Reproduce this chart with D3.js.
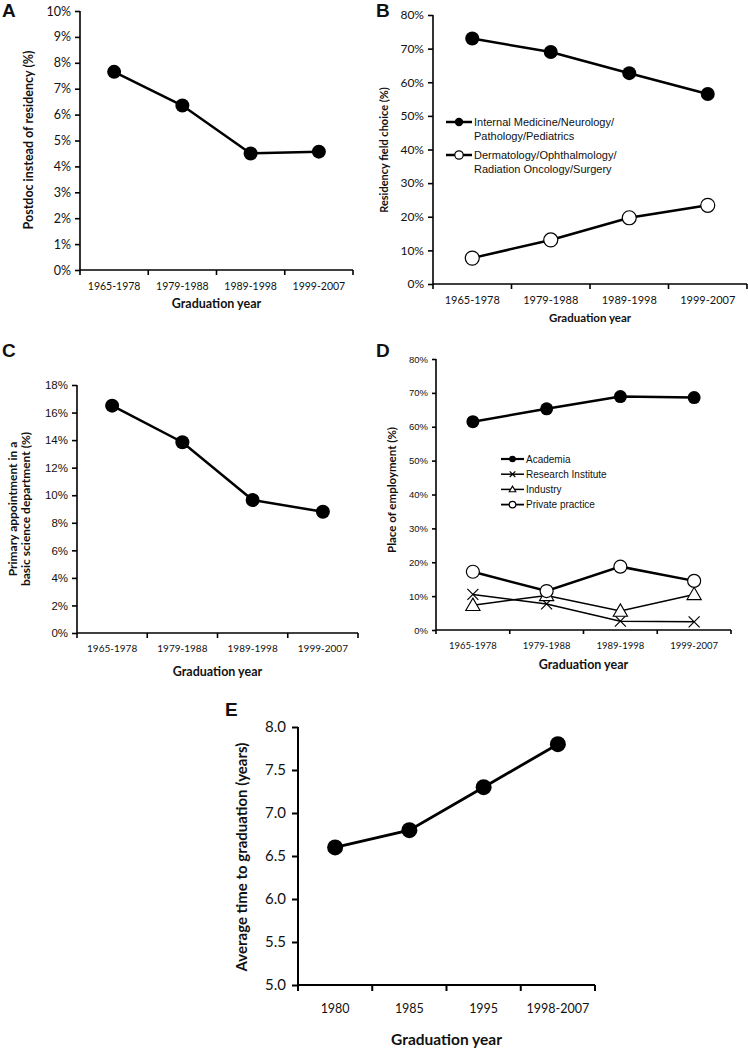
<!DOCTYPE html>
<html><head><meta charset="utf-8">
<script src="https://cdn.jsdelivr.net/npm/d3@7"></script>
<style>body{margin:0;background:#fff}svg{display:block}</style>
</head><body>
<script>
const periods = ["1965-1978","1979-1988","1989-1998","1999-2007"];
const postdocPct = [7.65, 6.35, 4.5, 4.57];
const residencyIM = [73.0, 69.0, 62.7, 56.5];
const residencyDerm = [7.7, 13.1, 19.7, 23.4];
const basicSciencePct = [16.5, 13.85, 9.65, 8.8];
const academia = [61.5, 65.3, 68.9, 68.6];
const researchInst = [10.5, 7.7, 2.6, 2.4];
const industry = [7.3, 10.2, 5.6, 10.5];
const privatePractice = [17.2, 11.5, 18.7, 14.5];
const eYears = ["1980","1985","1995","1998-2007"];
const timeToGrad = [6.6, 6.8, 7.3, 7.8];

const CAL = "Lato, 'Open Sans', sans-serif";
const ARI = "'Liberation Sans', Arial, sans-serif";

const svg = d3.select("body").append("svg").attr("width",748).attr("height",1049);

function panel(o){
  const g = svg.append("g");
  const x = d3.scaleBand().domain(o.cats).range([o.x0,o.x1]).padding(0);
  const y = d3.scaleLinear().domain(o.ydom).range([o.yb,o.yt]);
  // y axis
  const ya = d3.axisLeft(y).tickValues(o.yticks).tickFormat(o.yfmt).tickSize(o.tick).tickPadding(o.ypad||4);
  const yg = g.append("g").attr("transform",`translate(${o.x0},0)`).call(ya);
  yg.selectAll("text").attr("font-family",o.yfont).attr("font-size",o.yfs).attr("fill","#111");
  yg.selectAll("line,path").attr("stroke","#000").attr("stroke-width",o.axw||1.6);
  yg.select(".domain").attr("d",`M0,${o.yb}V${o.yt}`);
  // x axis
  const xg = g.append("g").attr("transform",`translate(0,${o.yb})`);
  xg.append("line").attr("x1",o.x0).attr("x2",o.x1).attr("stroke","#000").attr("stroke-width",o.axw||1.6);
  const edges = o.cats.map(c=>x(c)).concat([x.range()[1]]);
  xg.selectAll("line.t").data(edges).join("line").attr("class","t")
    .attr("x1",d=>d).attr("x2",d=>d).attr("y1",0).attr("y2",o.tick).attr("stroke","#000").attr("stroke-width",o.axw||1.6);
  xg.selectAll("text.c").data(o.cats).join("text").attr("class","c")
    .attr("x",d=>x(d)+x.bandwidth()/2).attr("y",o.xlabDy).attr("text-anchor","middle")
    .attr("font-family",o.xfont||CAL).attr("font-size",o.xfs).attr("fill","#111").text(d=>d);
  // titles
  g.append("text").attr("x",(o.x0+o.x1)/2).attr("y",o.xtY).attr("text-anchor","middle")
    .attr("font-family",CAL).attr("font-weight","bold").attr("font-size",o.xtfs).attr("fill","#111").text(o.xtitle);
  const yt = g.append("text").attr("transform",`translate(${o.ytX},${o.ytY}) rotate(-90)`).attr("text-anchor","middle")
    .attr("font-family",CAL).attr("font-weight","bold").attr("font-size",o.ytfs).attr("fill","#111");
  o.ytitle.forEach((t,i)=>yt.append("tspan").attr("x",0).attr("dy",i?o.ytfs*1.1:0).text(t));
  g.append("text").attr("x",o.lx).attr("y",o.ly).attr("font-family",ARI).attr("font-weight","bold")
    .attr("font-size",o.lfs||19).attr("fill","#111").text(o.letter);
  // series
  o.series.forEach(s=>{
    const pts = s.vals.map((v,i)=>[x(o.cats[i])+x.bandwidth()/2, y(v)]);
    g.append("path").attr("d",d3.line()(pts)).attr("fill","none").attr("stroke","#000").attr("stroke-width",s.lw);
    pts.forEach(p=>drawMarker(g,s.marker,p[0],p[1],s.r));
  });
  return {x,y,g};
}

function drawMarker(g,m,cx,cy,r){
  if(m==="fill") g.append("circle").attr("cx",cx).attr("cy",cy).attr("r",r).attr("fill","#000");
  else if(m==="open") g.append("circle").attr("cx",cx).attr("cy",cy).attr("r",r).attr("fill","#fff").attr("stroke","#000").attr("stroke-width",1.2);
  else if(m==="x"){ g.append("path").attr("d",`M${cx-r},${cy-r}L${cx+r},${cy+r}M${cx-r},${cy+r}L${cx+r},${cy-r}`).attr("stroke","#000").attr("stroke-width",1.2);}
  else if(m==="tri"){ g.append("path").attr("d",`M${cx},${cy-r*1.1}L${cx+r*1.1},${cy+r*0.8}L${cx-r*1.1},${cy+r*0.8}Z`).attr("fill","#fff").attr("stroke","#000").attr("stroke-width",1.1);}
}

const pctFmt = d=>d+"%";

// Panel A
panel({cats:periods,x0:80,x1:353,yb:270,yt:11,ydom:[0,10],yticks:d3.range(0,11,1),yfmt:pctFmt,
  yfont:CAL,yfs:12.5,xfs:10.5,xlabDy:20,tick:5,xtitle:"Graduation year",xtY:308,xtfs:12.5,
  ytitle:["Postdoc instead of residency (%)"],ytX:33,ytY:140,ytfs:12.5,letter:"A",lx:2,ly:17,
  series:[{vals:postdocPct,marker:"fill",r:7,lw:2.5}]});

// Panel B
const B = panel({cats:periods,x0:433,x1:747,yb:284,yt:15,ydom:[0,80],yticks:d3.range(0,81,10),yfmt:pctFmt,
  yfont:CAL,yfs:12,xfs:11,xlabDy:20,tick:5,xtitle:"Graduation year",xtY:322,xtfs:11.5,
  ytitle:["Residency field choice (%)"],ytX:388,ytY:150,ytfs:11,letter:"B",lx:376,ly:17,
  series:[{vals:residencyIM,marker:"fill",r:7,lw:2.5},{vals:residencyDerm,marker:"open",r:7,lw:2.5}]});
// Legend B
const legB = [{m:"fill",lines:["Internal Medicine/Neurology/","Pathology/Pediatrics"]},
              {m:"open",lines:["Dermatology/Ophthalmology/","Radiation Oncology/Surgery"]}];
legB.forEach((d,i)=>{
  const ly = 122 + i*33;
  B.g.append("line").attr("x1",446).attr("x2",472).attr("y1",ly).attr("y2",ly).attr("stroke","#000").attr("stroke-width",2.5);
  drawMarker(B.g,d.m,459,ly,4.2);
  const t = B.g.append("text").attr("x",474).attr("y",ly+4).attr("font-family",ARI).attr("font-size",11).attr("fill","#111");
  d.lines.forEach((l,j)=>t.append("tspan").attr("x",j?474:474).attr("dy",j?13.5:0).text(l));
});

// Panel C
panel({cats:periods,x0:77,x1:358,yb:633,yt:385,ydom:[0,18],yticks:d3.range(0,19,2),yfmt:pctFmt,
  yfont:ARI,yfs:11.5,xfs:10,xlabDy:19,tick:5,xtitle:"Graduation year",xtY:676,xtfs:12.5,
  ytitle:["Primary appointment in a","basic science department (%)"],ytX:17,ytY:509,ytfs:12,letter:"C",lx:2,ly:357,
  series:[{vals:basicSciencePct,marker:"fill",r:7,lw:2.5}]});

// Panel D
const D = panel({cats:periods,x0:436,x1:731,yb:630,yt:359,ydom:[0,80],yticks:d3.range(0,81,10),yfmt:pctFmt,
  yfont:ARI,yfs:9.5,xfs:9.5,xlabDy:19,tick:4,xtitle:"Graduation year",xtY:669,xtfs:12.5,
  ytitle:["Place of employment (%)"],ytX:396,ytY:490,ytfs:11.5,letter:"D",lx:376,ly:357,
  series:[{vals:academia,marker:"fill",r:6.5,lw:2.5},{vals:researchInst,marker:"x",r:5.5,lw:1.5},
          {vals:industry,marker:"tri",r:6.5,lw:1.5},{vals:privatePractice,marker:"open",r:6.5,lw:2.5}]});
const legD = [{m:"fill",t:"Academia",lw:2.2},{m:"x",t:"Research Institute",lw:1.5},{m:"tri",t:"Industry",lw:1.5},{m:"open",t:"Private practice",lw:1.8}];
legD.forEach((d,i)=>{
  const ly = 459 + i*15.2;
  D.g.append("line").attr("x1",501).attr("x2",524).attr("y1",ly).attr("y2",ly).attr("stroke","#000").attr("stroke-width",d.lw);
  drawMarker(D.g,d.m,512.5,ly,d.m==="tri"?3:(d.m==="x"?2.8:3.3));
  D.g.append("text").attr("x",526).attr("y",ly+3.5).attr("font-family",ARI).attr("font-size",10).attr("fill","#111").text(d.t);
});

// Panel E
panel({cats:eYears,x0:298,x1:595,yb:985,yt:727,ydom:[5,8],yticks:d3.range(5,8.01,0.5),yfmt:d3.format(".1f"),
  yfont:CAL,yfs:15,xfs:12.5,xlabDy:28,tick:6,xtitle:"Graduation year",xtY:1045,xtfs:15.5,axw:2,ypad:6,
  ytitle:["Average time to graduation (years)"],ytX:247,ytY:857,ytfs:15,letter:"E",lx:225,ly:716,lfs:19,
  series:[{vals:timeToGrad,marker:"fill",r:8,lw:2.8}]});
</script>
</body></html>
